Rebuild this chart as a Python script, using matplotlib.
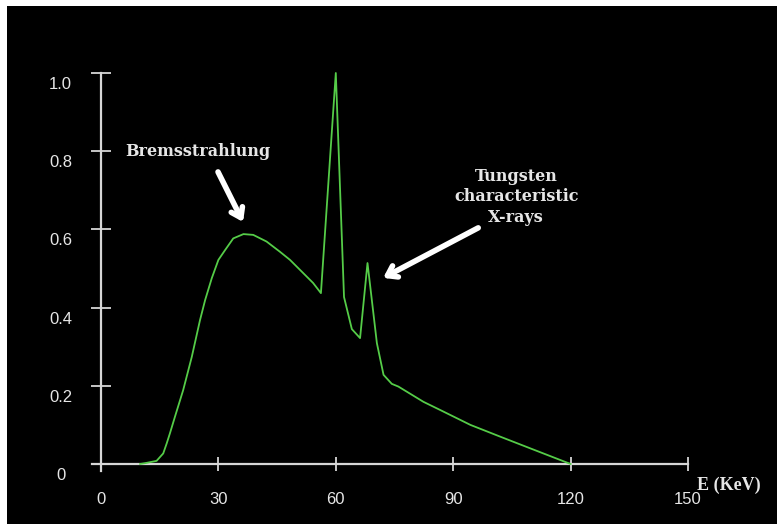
import matplotlib
matplotlib.use("Agg")
import matplotlib.pyplot as plt
from matplotlib.patches import Rectangle
from matplotlib.transforms import ScaledTranslation

# X-ray tube spectrum
energy = [10, 11.2, 14.2, 15.9, 16.8, 17.6, 18.9, 21.0, 23.2, 25.3, 26.6, 28.3, 30.0,
          31.7, 33.8, 36.4, 38.9, 42.3, 45.7, 48.3, 54.2, 56.2, 60.0, 62.1, 64.1, 66.2,
          68.1, 70.5, 72.2, 74.3, 76.0, 82.4, 86.7, 94.4, 102.0, 109.7, 120.0]
intensity = [0.0, 0.002, 0.008, 0.027, 0.053, 0.078, 0.121, 0.189, 0.274, 0.368, 0.419,
             0.475, 0.522, 0.547, 0.577, 0.588, 0.586, 0.569, 0.543, 0.522, 0.463, 0.437,
             1.0, 0.427, 0.345, 0.322, 0.514, 0.309, 0.228, 0.205, 0.198, 0.159, 0.138,
             0.1, 0.07, 0.04, 0.0]

x_ticks = [0, 30, 60, 90, 120, 150]
y_ticks = [0, 0.2, 0.4, 0.6, 0.8, 1.0]
y_tick_labels = ['0', '0.2', '0.4', '0.6', '0.8', '1.0']

axis_col = '#d6d6d6'
text_col = '#e6e6e6'
line_col = '#55cc48'

fig = plt.figure(figsize=(7.77, 5.24), dpi=100, facecolor='white')
# black panel with a thin white margin on the top and left
fig.patches.append(Rectangle((7 / 777, 0), 1, 1 - 6 / 524, transform=fig.transFigure,
                             facecolor='black', edgecolor='none', zorder=0))

ax = fig.add_axes([101 / 777, 60 / 524, 587 / 777, 391 / 524])
ax.set_zorder(2)
ax.set_facecolor('none')
ax.set_xlim(0, 150)
ax.set_ylim(0, 1)
for s in ax.spines.values():
    s.set_visible(False)

# axis lines, running a bit past the origin
ax.plot([-2.3, 150], [0, 0], color=axis_col, lw=1.6, clip_on=False, zorder=2)
ax.plot([0, 0], [-0.018, 1.0], color=axis_col, lw=1.6, clip_on=False, zorder=2)

ax.plot(energy, intensity, color=line_col, lw=1.3, zorder=3, clip_on=False,
        solid_joinstyle='round')

ax.set_xticks(x_ticks)
ax.set_xticklabels([str(v) for v in x_ticks])
ax.set_yticks(y_ticks)
ax.set_yticklabels(y_tick_labels)
ax.tick_params(axis='x', direction='inout', length=10, width=1.3, color=axis_col,
               labelcolor=text_col, labelsize=12, pad=15)
ax.tick_params(axis='y', direction='inout', length=14, width=1.3, color=axis_col,
               labelcolor=text_col, labelsize=12, pad=22)
for lab in ax.get_yticklabels():
    lab.set_horizontalalignment('center')
    lab.set_transform(lab.get_transform() + ScaledTranslation(0, -0.10, fig.dpi_scale_trans))
for lab in ax.get_xticklabels() + ax.get_yticklabels():
    lab.set_fontfamily('Liberation Sans')

ax.text(152.3, -0.055, 'E (KeV)', color=text_col, fontsize=13, fontweight='bold',
        family='Liberation Serif', ha='left', va='center')

# annotations
ax.text(24.8, 0.80, 'Bremsstrahlung', color=text_col, fontsize=11.5, fontweight='bold',
        family='DejaVu Serif', ha='center', va='center')
ax.text(106.1, 0.683, 'Tungsten\ncharacteristic\nX-rays', color=text_col, fontsize=11.5,
        fontweight='bold', family='DejaVu Serif', ha='center', va='center',
        linespacing=1.3)

arrow = dict(arrowstyle='->, head_length=0.65, head_width=0.45', color='white', lw=4.0,
             capstyle='round', joinstyle='round', shrinkA=0, shrinkB=0)
ax.annotate('', xy=(36.3, 0.619), xytext=(29.9, 0.747), arrowprops=arrow)
ax.annotate('', xy=(72.1, 0.476), xytext=(96.4, 0.604), arrowprops=arrow)

fig.savefig('out.png', dpi=100, facecolor='white')
